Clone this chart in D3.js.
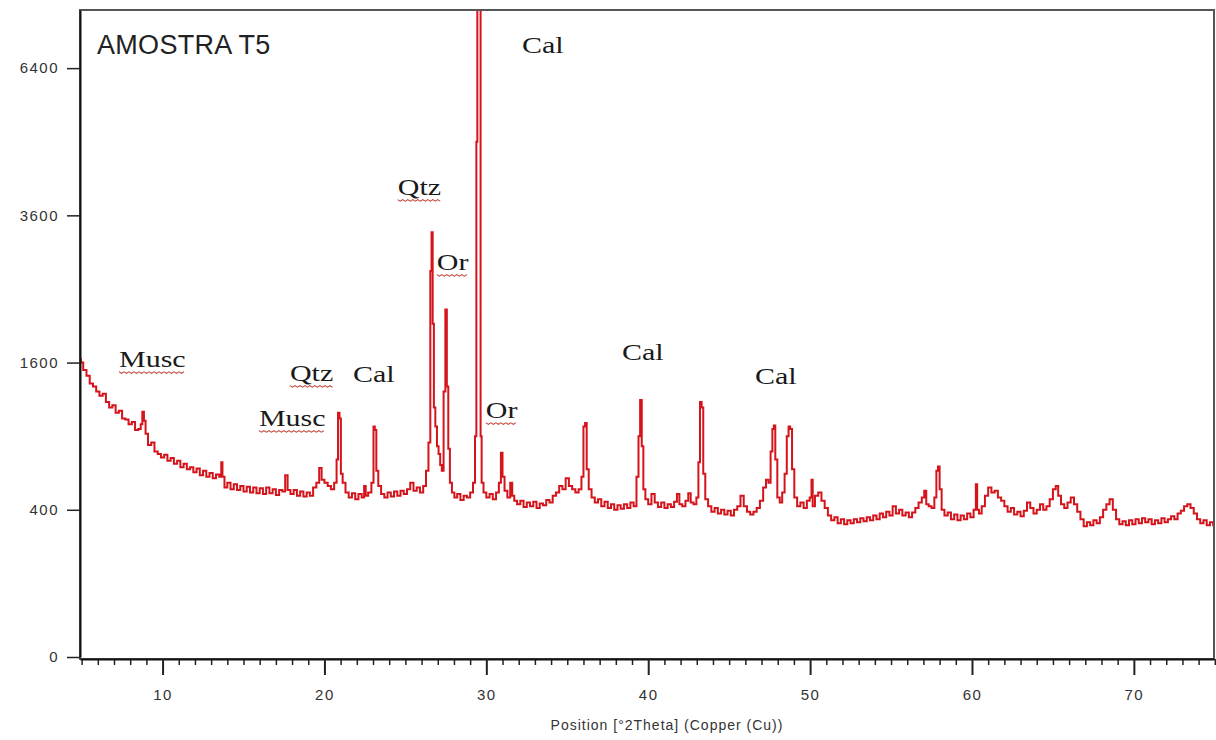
<!DOCTYPE html>
<html>
<head>
<meta charset="utf-8">
<script src="https://cdn.jsdelivr.net/npm/d3@7"></script>
<style>
  body { margin: 0; background: #fff; }
  #vis svg { display: block; }
</style>
</head>
<body>
<div id="vis"></div>
<script>
// XRD pattern: [2theta, counts]
const pattern = [
  [4.9,1640],[5.0,1600],[5.2,1520],[5.4,1460],[5.6,1380],[5.8,1350],[6.0,1300],[6.2,1260],[6.4,1280],[6.6,1200],
  [6.8,1150],[7.0,1170],[7.2,1100],[7.4,1120],[7.6,1050],[7.8,1040],[8.0,1000],[8.2,1020],[8.4,950],[8.6,960],
  [8.7,1000],[8.8,1110],[8.9,1030],[9.0,920],[9.2,830],[9.4,850],[9.6,780],[9.8,760],[10.0,735],[10.2,755],
  [10.4,710],[10.6,730],[10.8,690],[11.0,710],[11.2,665],[11.4,690],[11.6,650],[11.8,665],[12.0,630],[12.2,655],
  [12.4,610],[12.6,640],[12.8,600],[13.0,625],[13.2,590],[13.4,615],[13.6,600],[13.65,700],[13.75,600],[13.9,530],
  [14.1,560],[14.3,520],[14.5,550],[14.7,515],[14.9,540],[15.1,505],[15.3,535],[15.5,500],[15.7,530],[15.9,495],
  [16.1,525],[16.3,490],[16.5,530],[16.7,495],[16.9,520],[17.1,485],[17.3,515],[17.5,505],[17.65,610],[17.8,515],
  [18.0,490],[18.2,515],[18.4,480],[18.6,505],[18.8,475],[19.0,500],[19.2,480],[19.4,530],[19.6,560],[19.75,660],
  [19.9,580],[20.1,560],[20.3,540],[20.5,520],[20.7,560],[20.8,720],[20.88,1100],[20.98,1050],[21.05,620],[21.2,560],
  [21.4,500],[21.6,470],[21.8,495],[22.0,460],[22.2,490],[22.4,470],[22.5,540],[22.6,480],[22.8,500],[23.0,560],
  [23.06,980],[23.16,950],[23.25,640],[23.4,540],[23.6,490],[23.8,470],[24.0,500],[24.2,475],[24.4,505],[24.6,480],
  [24.8,510],[25.0,490],[25.2,520],[25.4,560],[25.6,510],[25.8,530],[26.0,500],[26.2,540],[26.35,640],[26.5,850],
  [26.58,2750],[26.65,3330],[26.72,2050],[26.8,1150],[26.9,980],[27.0,820],[27.1,760],[27.2,680],[27.3,640],[27.42,1300],
  [27.52,2230],[27.6,1350],[27.7,800],[27.8,560],[27.95,500],[28.1,470],[28.3,490],[28.5,455],[28.7,480],[28.9,470],
  [29.1,500],[29.25,560],[29.35,900],[29.42,4900],[29.47,9000],[29.62,9000],[29.67,900],[29.75,560],[29.9,500],[30.1,470],
  [30.3,490],[30.5,460],[30.7,500],[30.85,560],[30.95,770],[31.05,600],[31.2,510],[31.4,470],[31.55,560],[31.65,480],
  [31.8,450],[32.0,430],[32.2,450],[32.4,415],[32.6,440],[32.8,420],[33.0,445],[33.2,410],[33.4,435],[33.6,425],
  [33.8,455],[34.0,440],[34.2,480],[34.4,500],[34.6,540],[34.8,520],[35.0,590],[35.2,540],[35.4,520],[35.6,500],
  [35.8,520],[35.95,600],[36.05,980],[36.15,1010],[36.25,650],[36.4,520],[36.6,470],[36.8,440],[37.0,460],[37.2,420],
  [37.4,445],[37.6,410],[37.8,430],[38.0,400],[38.2,425],[38.4,405],[38.6,430],[38.8,410],[39.0,440],[39.2,420],
  [39.35,600],[39.45,900],[39.55,1220],[39.65,820],[39.75,520],[39.9,460],[40.1,430],[40.3,490],[40.5,440],[40.7,415],
  [40.9,440],[41.1,410],[41.3,430],[41.5,415],[41.7,445],[41.85,490],[42.0,430],[42.2,420],[42.4,450],[42.55,495],
  [42.7,440],[42.9,430],[43.05,470],[43.15,700],[43.25,1200],[43.35,1150],[43.45,620],[43.6,460],[43.8,420],[44.0,390],
  [44.2,410],[44.4,380],[44.6,400],[44.8,375],[45.0,395],[45.2,370],[45.4,400],[45.6,420],[45.8,480],[46.0,420],
  [46.2,390],[46.4,375],[46.6,390],[46.8,410],[47.0,450],[47.2,530],[47.35,580],[47.5,560],[47.62,780],[47.72,960],
  [47.8,990],[47.9,720],[48.05,470],[48.2,440],[48.35,500],[48.5,620],[48.62,900],[48.72,980],[48.82,960],[48.95,650],
  [49.1,470],[49.3,420],[49.5,440],[49.7,410],[49.9,450],[50.05,470],[50.12,580],[50.2,420],[50.4,480],[50.6,500],
  [50.8,450],[51.0,410],[51.2,370],[51.4,345],[51.6,360],[51.8,330],[52.0,350],[52.2,325],[52.4,345],[52.6,330],
  [52.8,350],[53.0,335],[53.2,355],[53.4,340],[53.6,360],[53.8,345],[54.0,370],[54.2,350],[54.4,380],[54.6,360],
  [54.8,390],[55.0,370],[55.2,420],[55.4,380],[55.6,400],[55.8,370],[56.0,385],[56.2,360],[56.4,385],[56.6,410],
  [56.8,440],[57.0,470],[57.1,510],[57.25,430],[57.4,420],[57.6,410],[57.75,470],[57.85,640],[57.95,670],[58.05,520],
  [58.2,400],[58.4,370],[58.6,385],[58.8,350],[59.0,375],[59.2,345],[59.4,370],[59.6,350],[59.8,380],[60.0,360],
  [60.2,400],[60.28,550],[60.36,400],[60.5,380],[60.7,420],[60.9,480],[61.1,530],[61.3,500],[61.5,510],[61.7,470],
  [61.9,450],[62.1,420],[62.3,390],[62.5,410],[62.7,375],[62.9,390],[63.1,365],[63.3,395],[63.5,440],[63.7,410],
  [63.9,380],[64.1,400],[64.3,430],[64.5,400],[64.7,420],[64.9,460],[65.1,520],[65.25,540],[65.4,480],[65.6,430],
  [65.8,410],[66.0,440],[66.2,470],[66.4,430],[66.6,390],[66.8,350],[67.0,315],[67.2,335],[67.4,320],[67.6,345],
  [67.8,330],[68.0,360],[68.2,400],[68.4,430],[68.6,460],[68.8,400],[69.0,350],[69.2,325],[69.4,340],[69.6,320],
  [69.8,345],[70.0,325],[70.2,350],[70.4,330],[70.6,355],[70.8,335],[71.0,350],[71.2,325],[71.4,345],[71.6,330],
  [71.8,355],[72.0,335],[72.2,350],[72.4,365],[72.6,350],[72.8,380],[73.0,395],[73.2,420],[73.4,430],[73.6,410],
  [73.8,380],[74.0,350],[74.2,330],[74.4,345],[74.6,320],[74.8,335],[75.0,320]
];

const yTicks = [0, 400, 1600, 3600, 6400];
const xMajorTicks = [10, 20, 30, 40, 50, 60, 70];
const xMinorTicks = d3.range(5, 76).filter(v => v % 10 !== 0);

// phase labels placed at [2theta, counts]
const phaseLabels = [
  { text: 'Musc', at: [7.31, 1552], wavy: true },
  { text: 'Musc', at: [15.95, 985], wavy: true },
  { text: 'Qtz', at: [17.87, 1406], wavy: true },
  { text: 'Cal', at: [21.76, 1396], wavy: false },
  { text: 'Qtz', at: [24.53, 3940], wavy: true },
  { text: 'Or', at: [26.94, 2765], wavy: true },
  { text: 'Or', at: [29.97, 1054], wavy: true },
  { text: 'Cal', at: [32.2, 6735], wavy: false },
  { text: 'Cal', at: [38.38, 1628], wavy: false },
  { text: 'Cal', at: [46.6, 1376], wavy: false }
];

const width = 1216;
const height = 740;
const plot = { left: 80, right: 1214, top: 10, bottom: 657 };

const svg = d3.select('#vis')
    .append('svg')
    .attr('width', width)
    .attr('height', height);

svg.append('rect').attr('width', width).attr('height', height).attr('fill', '#fff');

const x = d3.scaleLinear()
    .domain([4.9, 74.95])
    .range([plot.left, plot.right]);

const y = d3.scaleSqrt()
    .domain([0, 7726])
    .range([plot.bottom, plot.top]);

// frame (top and right edges look grey)
svg.append('rect')
    .attr('x', plot.left)
    .attr('y', plot.top)
    .attr('width', plot.right - plot.left)
    .attr('height', plot.bottom + 2 - plot.top)
    .attr('fill', 'none')
    .attr('stroke', '#555')
    .attr('stroke-width', 2);

svg.append('clipPath')
    .attr('id', 'clip')
    .append('rect')
    .attr('x', plot.left + 1)
    .attr('y', plot.top + 1)
    .attr('width', plot.right - plot.left - 2)
    .attr('height', plot.bottom - plot.top);

// diffractogram
const line = d3.line()
    .x(d => x(d[0]))
    .y(d => y(d[1]))
    .curve(d3.curveStep);

svg.append('path')
    .datum(pattern)
    .attr('clip-path', 'url(#clip)')
    .attr('fill', 'none')
    .attr('stroke', '#d4141a')
    .attr('stroke-width', 2)
    .attr('stroke-linejoin', 'miter')
    .attr('d', line);

// axes
const axisFont = g => g.selectAll('text')
    .attr('font-family', '"Liberation Sans", Arial, sans-serif')
    .attr('font-size', 15)
    .attr('letter-spacing', 1.5)
    .attr('fill', '#333');

svg.append('g')
    .attr('transform', `translate(0,${plot.bottom + 2})`)
    .call(d3.axisBottom(x).tickValues(xMinorTicks).tickSize(6).tickSizeOuter(0).tickFormat(''))
    .call(g => g.select('.domain').remove())
    .call(g => g.selectAll('line').attr('stroke', '#222').attr('stroke-width', 1.5));

svg.append('g')
    .attr('transform', `translate(0,${plot.bottom + 2})`)
    .call(d3.axisBottom(x).tickValues(xMajorTicks).tickSize(16).tickSizeOuter(0).tickPadding(14))
    .call(g => g.select('.domain').attr('stroke', '#111').attr('stroke-width', 2))
    .call(g => g.selectAll('line').attr('stroke', '#222').attr('stroke-width', 2))
    .call(axisFont);

svg.append('g')
    .attr('transform', `translate(${plot.left},0)`)
    .call(d3.axisLeft(y).tickValues(yTicks).tickFormat(d3.format('d')).tickSize(13).tickSizeOuter(0).tickPadding(8))
    .call(g => g.select('.domain').attr('stroke', '#111').attr('stroke-width', 2))
    .call(g => g.selectAll('line').attr('stroke', '#222').attr('stroke-width', 1.5))
    .call(axisFont);

svg.append('text')
    .attr('x', (plot.left + plot.right) / 2 + 20)
    .attr('y', 730)
    .attr('text-anchor', 'middle')
    .attr('font-family', '"Liberation Sans", Arial, sans-serif')
    .attr('font-size', 14)
    .attr('letter-spacing', 1)
    .attr('fill', '#333')
    .text('Position [°2Theta] (Copper (Cu))');

// sample title
svg.append('text')
    .attr('x', 97)
    .attr('y', 54)
    .attr('font-family', '"Liberation Sans", Arial, sans-serif')
    .attr('font-size', 27)
    .attr('letter-spacing', 0.3)
    .attr('fill', '#222')
    .text('AMOSTRA T5');

// phase labels (stretched serif, spell-check style squiggle under some)
const labels = svg.append('g')
    .selectAll('g')
    .data(phaseLabels)
    .join('g')
    .attr('transform', d => `translate(${x(d.at[0])},${y(d.at[1])}) scale(1.25,1)`);

labels.append('text')
    .attr('font-family', '"Liberation Serif", "Times New Roman", serif')
    .attr('font-size', 24)
    .attr('fill', '#1a1a1a')
    .text(d => d.text);

labels.filter(d => d.wavy).each(function() {
    const g = d3.select(this);
    const w = g.select('text').node().getComputedTextLength();
    const pts = [];
    for (let i = 0; i * 2 <= w; i++) pts.push([i * 2, 5 + (i % 2 ? 1.3 : -0.3)]);
    g.append('path')
        .attr('d', d3.line()(pts))
        .attr('fill', 'none')
        .attr('stroke', '#c0392b')
        .attr('stroke-width', 0.9);
});
</script>
</body>
</html>
